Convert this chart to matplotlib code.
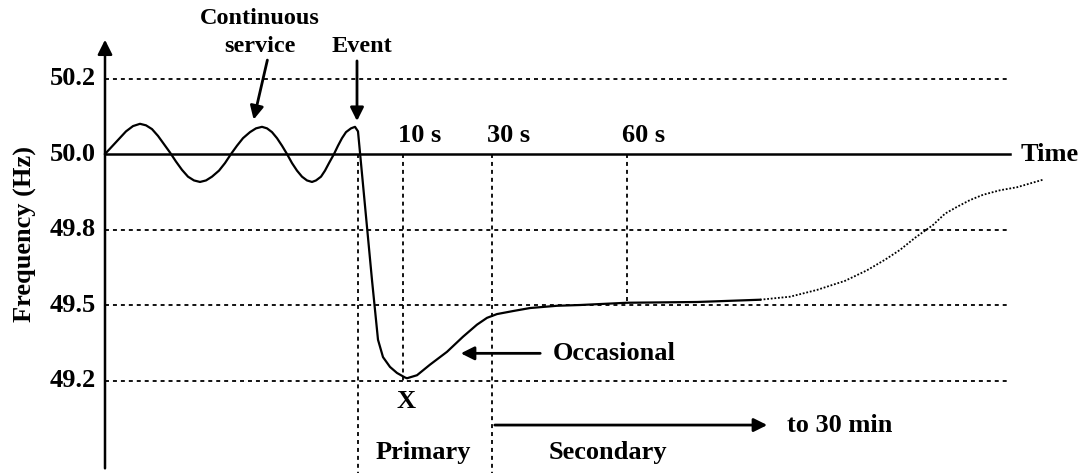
import numpy as np
import matplotlib.pyplot as plt

plt.rcParams['font.family'] = 'Liberation Serif'

# schematic time units (axis origin = 0) and frequency "levels"
# level 0 = 50.0 Hz, each grid step = one level (axis is not linear in Hz)
tick_levels = [1, 0, -1, -2, -3]
tick_labels = ['50.2', '50.0', '49.8', '49.5', '49.2']

# solid part of the frequency trace
curve_t = [0, 7, 14, 21, 28, 35,
           41, 47, 53, 59, 65, 71, 77, 83, 89, 95,
           101, 107, 114, 120, 126, 132, 138, 145, 151, 157,
           162, 167, 172, 177, 182, 187, 192, 197, 202, 207,
           211, 216, 220, 224, 229, 233, 237, 241, 246, 250,
           253, 267, 273, 278, 285, 292, 300, 302, 312, 325, 342, 358, 372, 382,
           392, 408, 425, 452, 475, 522, 592, 655]
curve_lv = [0.0, 0.10, 0.20, 0.30, 0.37, 0.40,
            0.38, 0.33, 0.24, 0.13, 0.02, -0.10, -0.21, -0.30, -0.35, -0.37,
            -0.35, -0.30, -0.22, -0.12, 0.0, 0.11, 0.21, 0.29, 0.34, 0.36,
            0.34, 0.29, 0.21, 0.11, 0.0, -0.12, -0.22, -0.30, -0.35, -0.37,
            -0.35, -0.30, -0.22, -0.12, 0.0, 0.11, 0.21, 0.29, 0.34, 0.36,
            0.30, -1.67, -2.46, -2.69, -2.82, -2.90, -2.96, -2.97, -2.93, -2.79,
            -2.62, -2.42, -2.26, -2.17,
            -2.12, -2.08, -2.04, -2.01, -2.0, -1.97, -1.96, -1.93]

# dotted recovery part
dot_t = [655, 685, 712, 740, 762, 780, 795, 810, 828, 840, 852, 865, 878, 895, 912, 938]
dot_lv = [-1.93, -1.89, -1.80, -1.68, -1.54, -1.40, -1.27, -1.11, -0.94, -0.79,
          -0.70, -0.61, -0.54, -0.48, -0.44, -0.34]

# markers on time axis
event_t = 253
marks_t = [298, 387, 522]
marks_lbl = ['10 s', '30 s', '60 s']
axis_end = 905

fig = plt.figure(figsize=(10.89, 4.73), dpi=100)
ax = fig.add_axes([0, 0, 1, 1])
ax.set_xlim(-105, 984)
ax.set_ylim(-4.225, 2.04)
ax.axis('off')

fs = 19
tw = dict(fontweight='bold', fontsize=fs)
tw_top = dict(fontweight='bold', fontsize=17.5)
grid = dict(color='black', lw=1.3, linestyle=(0, (2.2, 2.2)))

# horizontal grid lines
for lv, lbl in zip(tick_levels, tick_labels):
    if lv == 0:
        ax.plot([0, axis_end], [0, 0], color='black', lw=1.8)
    else:
        ax.plot([0, axis_end], [lv, lv], **grid)
    ax.text(-9, lv, lbl, ha='right', va='center', **tw)

# vertical dotted lines
ax.plot([event_t, event_t], [0, -4.225], **grid)
ax.plot([marks_t[0], marks_t[0]], [0, -3], **grid)
ax.plot([marks_t[1], marks_t[1]], [0, -4.225], **grid)
ax.plot([marks_t[2], marks_t[2]], [0, -2], **grid)
for t, s in zip(marks_t, marks_lbl):
    ax.text(t + 17, 0.25, s, ha='center', va='center', **tw)

# y axis with arrow
ax.annotate('', xy=(0, 1.55), xytext=(0, -4.2),
            arrowprops=dict(arrowstyle='-|>', color='black', lw=1.8, mutation_scale=22))
ax.text(-80, -1.06, 'Frequency (Hz)', rotation=90, ha='center', va='center', **tw)

# curve
ax.plot(curve_t, curve_lv, color='black', lw=1.6)
ax.plot(dot_t, dot_lv, color='black', lw=1.3, linestyle=(0, (1, 1)))

arr = dict(arrowstyle='-|>', color='black', lw=2, mutation_scale=20)
ax.annotate('', xy=(148, 0.42), xytext=(163, 1.28), arrowprops=arr)
ax.text(155, 1.80, 'Continuous', ha='center', va='center', **tw_top)
ax.text(155, 1.42, 'service', ha='center', va='center', **tw_top)
ax.annotate('', xy=(252, 0.40), xytext=(252, 1.27), arrowprops=arr)
ax.text(257, 1.42, 'Event', ha='center', va='center', **tw_top)

ax.text(945, 0, 'Time', ha='center', va='center', **tw)
ax.text(301, -3.28, 'X', ha='center', va='center', **tw)

ax.annotate('', xy=(353, -2.64), xytext=(438, -2.64), arrowprops=arr)
ax.text(448, -2.64, 'Occasional', ha='left', va='center', **tw)

ax.annotate('', xy=(665, -3.59), xytext=(387, -3.59), arrowprops=arr)
ax.text(682, -3.59, 'to 30 min', ha='left', va='center', **tw)

ax.text(318, -3.96, 'Primary', ha='center', va='center', **tw)
ax.text(503, -3.96, 'Secondary', ha='center', va='center', **tw)

fig.savefig('out.png', dpi=100)
